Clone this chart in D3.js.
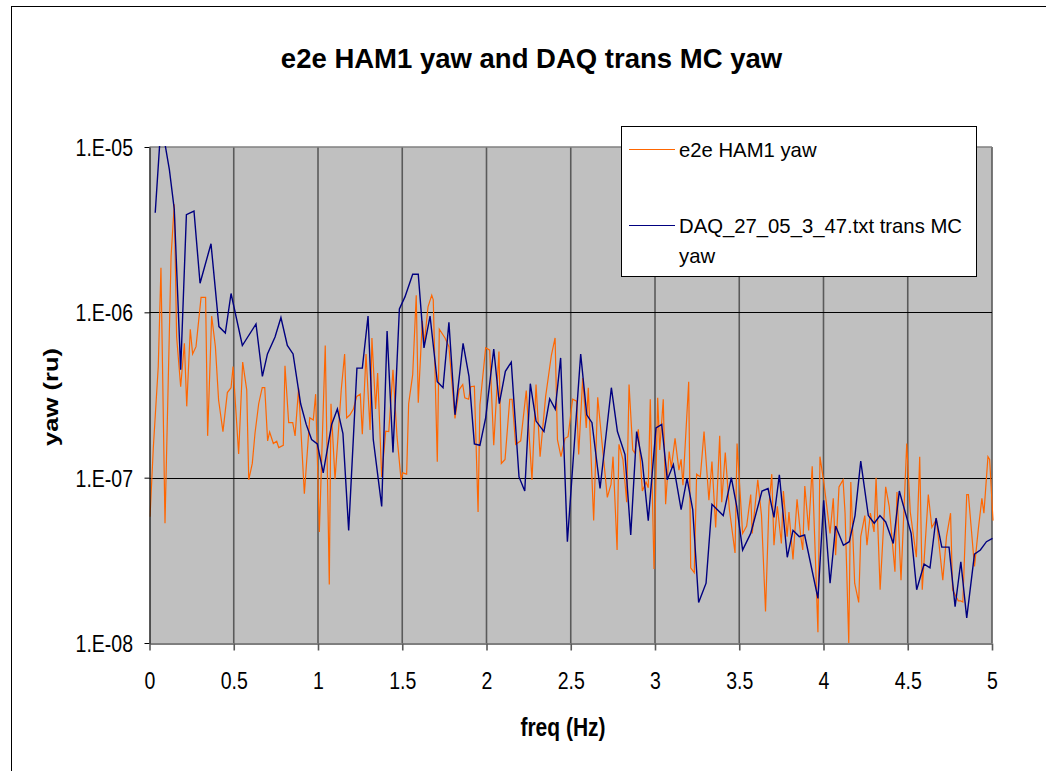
<!DOCTYPE html>
<html>
<head>
<meta charset="utf-8">
<script src="https://cdn.jsdelivr.net/npm/d3@7"></script>
<style>
  html, body { margin: 0; padding: 0; background: #fff; }
  svg { display: block; font-family: "Liberation Sans", Arial, sans-serif; }
</style>
</head>
<body>
<svg id="chart" width="1046" height="771"></svg>
<script>
// ---------------- data ----------------
const chartTitle = "e2e HAM1 yaw and DAQ trans MC yaw";
const xAxisTitle = "freq (Hz)";
const yAxisTitle = "yaw (ru)";
const seriesNames = ["e2e HAM1 yaw", "DAQ_27_05_3_47.txt trans MC yaw"];
const xTickValues = [0, 0.5, 1, 1.5, 2, 2.5, 3, 3.5, 4, 4.5, 5];
const xTickLabels = ["0", "0.5", "1", "1.5", "2", "2.5", "3", "3.5", "4", "4.5", "5"];
const yTickValues = [1e-8, 1e-7, 1e-6, 1e-5];
const yTickLabels = ["1.E-08", "1.E-07", "1.E-06", "1.E-05"];

// e2e HAM1 yaw (orange)
const e2eFreq = [0.003,0.023,0.052,0.068,0.092,0.128,0.147,0.161,0.185,0.207,0.221,0.242,0.256,0.276,0.306,0.333,0.345,0.369,0.391,0.41,0.436,0.462,0.484,0.496,0.529,0.553,0.577,0.589,0.61,0.626,0.648,0.669,0.684,0.701,0.713,0.735,0.755,0.767,0.794,0.804,0.826,0.85,0.864,0.885,0.919,0.951,0.972,0.986,1.008,1.043,1.067,1.077,1.101,1.123,1.138,1.158,1.17,1.19,1.21,1.23,1.251,1.263,1.285,1.309,1.32,1.342,1.354,1.378,1.402,1.42,1.445,1.469,1.493,1.503,1.526,1.538,1.562,1.583,1.595,1.619,1.631,1.653,1.675,1.684,1.708,1.72,1.754,1.777,1.813,1.837,1.859,1.871,1.894,1.906,1.928,1.95,1.961,1.995,2.019,2.043,2.074,2.088,2.11,2.138,2.152,2.173,2.203,2.236,2.27,2.294,2.318,2.351,2.385,2.407,2.421,2.442,2.466,2.484,2.511,2.535,2.547,2.571,2.592,2.604,2.636,2.66,2.684,2.717,2.739,2.751,2.775,2.786,2.81,2.832,2.846,2.868,2.88,2.901,2.925,2.947,2.96,2.972,2.994,3.016,3.028,3.049,3.063,3.084,3.097,3.119,3.142,3.155,3.166,3.2,3.212,3.233,3.247,3.269,3.291,3.32,3.338,3.36,3.384,3.396,3.417,3.441,3.475,3.487,3.52,3.544,3.568,3.577,3.61,3.632,3.656,3.676,3.693,3.706,3.726,3.75,3.762,3.784,3.795,3.819,3.843,3.865,3.877,3.889,3.912,3.933,3.967,3.979,4.003,4.039,4.058,4.072,4.092,4.116,4.128,4.15,4.162,4.185,4.209,4.221,4.245,4.258,4.278,4.3,4.312,4.336,4.369,4.39,4.424,4.436,4.46,4.494,4.515,4.551,4.571,4.586,4.622,4.643,4.67,4.708,4.73,4.754,4.766,4.8,4.813,4.827,4.85,4.86,4.896,4.919,4.94,4.952,4.976,4.986,5.006];
const e2eYaw = [5.8e-8,1.54e-7,4.7e-7,1.86e-6,5.3e-8,2.17e-6,4.5e-6,7.1e-7,3.55e-7,6.5e-7,2.7e-7,7.9e-7,5.6e-7,6.2e-7,1.23e-6,1.23e-6,1.79e-7,9.5e-7,6.2e-7,2.95e-7,1.9e-7,3.27e-7,3.5e-7,4.7e-7,1.39e-7,5.0e-7,3.4e-7,9.7e-8,1.22e-7,1.85e-7,2.8e-7,3.5e-7,3.5e-7,1.67e-7,1.89e-7,1.61e-7,1.66e-7,1.52e-7,1.57e-7,4.75e-7,2.15e-7,2.15e-7,1.79e-7,3.5e-7,8.0e-8,2.3e-7,2.23e-7,3.2e-7,4.7e-8,6.3e-7,2.26e-8,2.8e-7,9.8e-8,2.03e-7,3.4e-7,5.6e-7,2.3e-7,2.4e-7,2.6e-7,3.1e-7,3.2e-7,1.83e-7,5.6e-7,1.94e-7,7.0e-7,2.6e-7,4.3e-7,1.01e-7,1.91e-7,1.9e-7,4.5e-7,1.77e-7,9.7e-8,1.07e-7,1.05e-7,2.8e-7,4.2e-7,1.27e-6,2.84e-7,8.9e-7,6.5e-7,1.08e-6,1.27e-6,1.19e-6,1.25e-7,7.9e-7,7.0e-7,6.2e-7,2.28e-7,3.4e-7,3.66e-7,3.04e-7,2.98e-7,3.55e-7,3.58e-7,6.2e-8,2.75e-7,6.1e-7,5.9e-7,1.57e-7,5.8e-7,1.22e-7,1.29e-7,2.98e-7,2.98e-7,1.59e-7,1.67e-7,3.36e-7,9.7e-8,3.66e-7,1.34e-7,3.1e-7,5.5e-7,7.0e-7,1.7e-7,1.34e-7,1.73e-7,1.77e-7,2.98e-7,2.9e-7,1.38e-7,4.0e-7,2.0e-7,3.5e-7,5.5e-8,3.06e-7,1.69e-7,7.6e-8,9.1e-8,1.34e-7,3.65e-8,1.59e-7,1.28e-7,7.1e-8,3.66e-7,1.47e-7,1.41e-7,1.96e-7,8.3e-8,9.4e-8,8.7e-8,2.98e-7,2.8e-8,3.04e-7,1.47e-7,2.98e-7,6.9e-8,1.44e-7,1.15e-7,1.73e-7,1.11e-7,1.29e-7,9.0e-8,3.8e-7,2.85e-8,2.66e-8,1.05e-7,1.01e-7,1.9e-7,7.3e-8,1.25e-7,5.0e-8,1.79e-7,7.1e-8,1.42e-7,6.5e-8,3.5e-8,1.61e-7,4.6e-8,5.1e-8,7.9e-8,4.6e-8,9.7e-8,5.9e-8,1.55e-8,6.7e-8,1.05e-7,3.9e-8,6.7e-8,4.0e-8,8.3e-8,4.4e-8,6.2e-8,3.2e-8,7.4e-8,4.4e-8,3.65e-8,8.9e-8,4.8e-8,1.17e-7,1.16e-8,1.34e-7,9.2e-8,4.6e-8,7.5e-8,3.4e-8,8.8e-8,9.7e-8,6.1e-8,1.0e-8,9.4e-8,2.3e-8,1.76e-8,4.4e-8,5.9e-8,3.9e-8,6.1e-8,4.7e-8,1.0e-7,2.1e-8,8.8e-8,6.7e-8,2.7e-8,8.2e-8,2.4e-8,1.61e-7,6.2e-8,3.3e-8,1.34e-7,2.1e-8,7.9e-8,5.0e-8,5.6e-8,2.4e-8,4.4e-8,6.1e-8,2.1e-8,1.8e-8,1.8e-8,1.77e-8,7.9e-8,7.9e-8,2.9e-8,4.9e-8,7.5e-8,6.1e-8,1.34e-7,1.29e-7,5.5e-8];

// DAQ_27_05_3_47.txt trans MC yaw (navy)
const daqFreq = [0.034,0.062,0.088,0.118,0.147,0.185,0.219,0.264,0.3,0.365,0.412,0.45,0.484,0.551,0.632,0.67,0.7,0.745,0.78,0.818,0.852,0.897,0.93,0.962,0.996,1.031,1.081,1.115,1.148,1.182,1.231,1.263,1.297,1.328,1.378,1.41,1.445,1.483,1.516,1.562,1.595,1.629,1.665,1.708,1.742,1.777,1.813,1.861,1.896,1.928,1.961,1.995,2.043,2.076,2.112,2.147,2.193,2.227,2.26,2.294,2.341,2.375,2.408,2.44,2.48,2.559,2.595,2.626,2.674,2.741,2.777,2.822,2.856,2.891,2.925,2.96,3.006,3.04,3.073,3.109,3.155,3.19,3.224,3.259,3.303,3.338,3.405,3.453,3.485,3.52,3.568,3.635,3.671,3.706,3.738,3.785,3.819,3.856,3.888,3.967,4.001,4.039,4.072,4.118,4.153,4.187,4.221,4.266,4.301,4.335,4.369,4.414,4.45,4.52,4.553,4.597,4.632,4.668,4.702,4.745,4.781,4.815,4.85,4.896,4.931,4.967,5.003];
const daqYaw = [4.0e-6,1.1e-5,1.1e-5,7.3e-6,4.2e-6,4.5e-7,3.9e-6,4.1e-6,1.5e-6,2.6e-6,8.2e-7,7.5e-7,1.3e-6,6.3e-7,8.5e-7,4.1e-7,5.6e-7,7.1e-7,9.3e-7,6.3e-7,5.6e-7,2.8e-7,2.1e-7,1.7e-7,1.6e-7,1.07e-7,2.1e-7,2.6e-7,1.85e-7,4.8e-8,4.6e-7,4.6e-7,9.5e-7,1.7e-7,6.7e-8,7.7e-7,1.42e-7,1.05e-6,1.24e-6,1.7e-6,1.7e-6,6.1e-7,9.5e-7,3.8e-7,3.5e-7,8.7e-7,2.4e-7,6.5e-7,4.1e-7,1.6e-7,1.57e-7,2.3e-7,6.0e-7,2.8e-7,4.4e-7,5.0e-7,1.01e-7,8.3e-8,3.7e-7,2.2e-7,1.9e-7,3.0e-7,2.6e-7,5.3e-7,4.1e-8,5.6e-7,2.4e-7,2.15e-7,8.6e-8,3.5e-7,1.9e-7,1.38e-7,4.5e-8,1.9e-7,1.25e-7,5.5e-8,2.0e-7,2.1e-7,9.7e-8,1.2e-7,6.4e-8,9.9e-8,6.4e-8,1.76e-8,2.3e-8,6.9e-8,5.9e-8,1.0e-7,6.7e-8,3.65e-8,4.6e-8,8.3e-8,8.6e-8,5.75e-8,1.04e-7,3.3e-8,4.8e-8,4.4e-8,4.5e-8,1.86e-8,7.3e-8,2.3e-8,5.1e-8,3.9e-8,4.1e-8,5.9e-8,1.26e-7,5.9e-8,5.3e-8,5.9e-8,5.4e-8,4.0e-8,8.3e-8,4.6e-8,2.1e-8,3.0e-8,2.85e-8,5.7e-8,3.8e-8,3.8e-8,1.66e-8,3.1e-8,1.42e-8,3.45e-8,3.65e-8,4.1e-8,4.3e-8];

// ---------------- drawing ----------------
const svg = d3.select("#chart");
const plot = { left: 149.5, right: 992, top: 147, bottom: 643 };
const stretch = 1.22;

const x = d3.scaleLinear().domain([0, 5]).range([plot.left, plot.right]);
const y = d3.scaleLog().domain([1e-8, 1e-5]).range([plot.bottom, plot.top]);

// outer chart border
svg.append("rect").attr("x", 11.5).attr("y", 6.5).attr("width", 1100).attr("height", 800)
  .attr("fill", "#fff").attr("stroke", "#000").attr("stroke-width", 1);

// plot background
svg.append("rect").attr("x", plot.left).attr("y", plot.top)
  .attr("width", plot.right - plot.left).attr("height", plot.bottom - plot.top)
  .attr("fill", "#C0C0C0");

// vertical gridlines
svg.append("g").selectAll("line").data(xTickValues.slice(1)).join("line")
  .attr("x1", d => x(d)).attr("x2", d => x(d))
  .attr("y1", plot.top).attr("y2", plot.bottom)
  .attr("stroke", "#5a5a5a").attr("stroke-width", 1.6);

// horizontal gridlines
svg.append("g").selectAll("line").data(yTickValues.slice(1, 3)).join("line")
  .attr("x1", plot.left).attr("x2", plot.right)
  .attr("y1", d => Math.round(y(d)) + 0.5).attr("y2", d => Math.round(y(d)) + 0.5)
  .attr("stroke", "#000").attr("stroke-width", 1);

// top border of plot
svg.append("line").attr("x1", plot.left).attr("x2", plot.right)
  .attr("y1", plot.top).attr("y2", plot.top)
  .attr("stroke", "#808080").attr("stroke-width", 1.6);

// series
const clip = svg.append("clipPath").attr("id", "clip").append("rect")
  .attr("x", plot.left).attr("y", plot.top - 1)
  .attr("width", plot.right - plot.left + 4).attr("height", plot.bottom - plot.top + 1);

const line = d3.line().x(d => x(d[0])).y(d => y(d[1]));
const e2eData = e2eFreq.map((f, i) => [f, e2eYaw[i]]);
const daqData = daqFreq.map((f, i) => [f, daqYaw[i]]);

const series = svg.append("g").attr("clip-path", "url(#clip)");
series.append("path").datum(e2eData).attr("d", line)
  .attr("fill", "none").attr("stroke", "#FF6600").attr("stroke-width", 1.2)
  .attr("stroke-linejoin", "miter");
series.append("path").datum(daqData).attr("d", line)
  .attr("fill", "none").attr("stroke", "#000080").attr("stroke-width", 1.4)
  .attr("stroke-linejoin", "miter");

// x axis
const xAxis = d3.axisBottom(x).tickValues(xTickValues)
  .tickFormat((d, i) => xTickLabels[i]).tickSizeInner(7).tickSizeOuter(0);
const gx = svg.append("g").attr("transform", `translate(0,${plot.bottom + 0.5})`).call(xAxis);
gx.select(".domain").attr("stroke", "#000").attr("stroke-width", 1.2);
gx.selectAll(".tick line").attr("stroke", "#5a5a5a").attr("stroke-width", 1.6);
gx.selectAll(".tick text")
  .attr("fill", "#000").attr("font-size", 19.5).attr("font-family", "Liberation Sans, Arial, sans-serif")
  .attr("dy", 0).attr("y", 46 / stretch).attr("transform", `scale(1,${stretch})`);

// y axis
const yAxis = d3.axisLeft(y).tickValues(yTickValues)
  .tickFormat((d, i) => yTickLabels[i]).tickSizeInner(5).tickSizeOuter(0);
const gy = svg.append("g").attr("transform", `translate(${plot.left},0)`).call(yAxis);
gy.select(".domain").attr("stroke", "#000").attr("stroke-width", 1.2);
gy.selectAll(".tick line").attr("stroke", "#000");
gy.selectAll(".tick text")
  .attr("fill", "#000").attr("font-size", 19.5).attr("font-family", "Liberation Sans, Arial, sans-serif")
  .attr("x", -16.5).attr("dy", 0)
  .attr("transform", function () {
    const t = d3.select(this.parentNode).attr("transform");
    return null;
  })
  .each(function () {
    const tick = d3.select(this.parentNode);
    const m = /translate\(([^,]+),([^)]+)\)/.exec(tick.attr("transform"));
    const ty = +m[2];
    tick.attr("transform", `translate(0,${ty})`);
    d3.select(this).attr("y", 8.5 / stretch).attr("transform", `scale(1,${stretch})`);
  });

// title
svg.append("text").attr("x", 531.5).attr("y", 68)
  .attr("text-anchor", "middle").attr("font-weight", "bold").attr("font-size", 27.5)
  .text(chartTitle);

// x axis title
svg.append("g").attr("transform", `translate(563,736) scale(1,${stretch})`)
  .append("text").attr("text-anchor", "middle").attr("font-weight", "bold").attr("font-size", 21)
  .text(xAxisTitle);

// y axis title
svg.append("g").attr("transform", `translate(58,397) rotate(-90) scale(${stretch},1)`)
  .append("text").attr("text-anchor", "middle").attr("font-weight", "bold").attr("font-size", 21)
  .text(yAxisTitle);

// legend
const lg = svg.append("g");
lg.append("rect").attr("x", 621.5).attr("y", 126.5).attr("width", 355).attr("height", 150)
  .attr("fill", "#fff").attr("stroke", "#000").attr("stroke-width", 1);
lg.append("line").attr("x1", 629).attr("x2", 675).attr("y1", 149.5).attr("y2", 149.5)
  .attr("stroke", "#FF6600").attr("stroke-width", 1.2);
lg.append("text").attr("x", 679).attr("y", 157).attr("font-size", 20.3).text(seriesNames[0]);
lg.append("line").attr("x1", 629).attr("x2", 675).attr("y1", 225.5).attr("y2", 225.5)
  .attr("stroke", "#000080").attr("stroke-width", 1.2);
lg.append("text").attr("x", 679).attr("y", 233).attr("font-size", 20.3).text("DAQ_27_05_3_47.txt trans MC");
lg.append("text").attr("x", 679).attr("y", 263).attr("font-size", 20.3).text("yaw");
</script>
</body>
</html>
